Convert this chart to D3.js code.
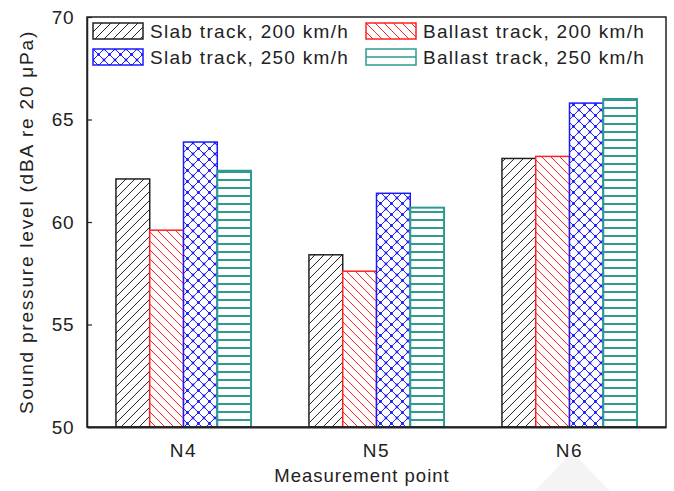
<!DOCTYPE html>
<html>
<head>
<meta charset="utf-8">
<script src="https://cdn.jsdelivr.net/npm/d3@7"></script>
<style>
  html, body { margin: 0; padding: 0; background: #fff; }
  svg { display: block; }
  text { font-family: "Liberation Sans", Arial, sans-serif; fill: #222; }
</style>
</head>
<body>
<svg id="chart" width="674" height="491"></svg>
<script>
// Measurement points and A-weighted sound pressure levels
const categories = ["N4", "N5", "N6"];
const seriesNames = [
  "Slab track, 200 km/h",
  "Ballast track, 200 km/h",
  "Slab track, 250 km/h",
  "Ballast track, 250 km/h"
];
const slab200 = [62.1, 58.4, 63.1];
const ballast200 = [59.6, 57.6, 63.2];
const slab250 = [63.9, 61.4, 65.8];
const ballast250 = [62.5, 60.7, 66.0];
const yTicks = [50, 55, 60, 65, 70];

const seriesValues = [slab200, ballast200, slab250, ballast250];
const seriesKeys = ["s200", "b200", "s250", "b250"];
const colors = { s200: "#222222", b200: "#ff2020", s250: "#1a1aff", b250: "#2e9a92" };

const svg = d3.select("#chart");
const margin = { left: 87, right: 8, top: 17, bottom: 64 };
const W = 674, H = 491;
const x0 = margin.left, x1 = W - margin.right, yTop = margin.top, yBot = H - margin.bottom;

// faint background shape near the bottom right
svg.append("polygon")
  .attr("points", "572,452 535,491 610,491")
  .attr("fill", "#f4f4f4");

const defs = svg.append("defs");

// hatch patterns
const p1 = defs.append("pattern").attr("id", "pat-s200")
  .attr("patternUnits", "userSpaceOnUse").attr("width", 9).attr("height", 9);
p1.append("rect").attr("width", 9).attr("height", 9).attr("fill", "#fff");
p1.append("path").attr("d", "M0,9 L9,0 M-2,2 L2,-2 M7,11 L11,7")
  .attr("stroke", colors.s200).attr("stroke-width", 1);

const p2 = defs.append("pattern").attr("id", "pat-b200")
  .attr("patternUnits", "userSpaceOnUse").attr("width", 9).attr("height", 9);
p2.append("rect").attr("width", 9).attr("height", 9).attr("fill", "#fff");
p2.append("path").attr("d", "M0,0 L9,9 M-2,7 L2,11 M7,-2 L11,2")
  .attr("stroke", colors.b200).attr("stroke-width", 1);

const p3 = defs.append("pattern").attr("id", "pat-s250")
  .attr("patternUnits", "userSpaceOnUse").attr("width", 11).attr("height", 11);
p3.append("rect").attr("width", 11).attr("height", 11).attr("fill", "#fff");
p3.append("path").attr("d", "M0,0 L11,11 M11,0 L0,11")
  .attr("stroke", colors.s250).attr("stroke-width", 1);
[[5.5, 5.5], [0, 0], [11, 0], [0, 11], [11, 11]].forEach(([cx, cy]) =>
  p3.append("circle").attr("cx", cx).attr("cy", cy).attr("r", 1.4).attr("fill", colors.s250));

const p4 = defs.append("pattern").attr("id", "pat-b250")
  .attr("patternUnits", "userSpaceOnUse").attr("width", 10).attr("height", 8);
p4.append("rect").attr("width", 10).attr("height", 8).attr("fill", "#fff");
p4.append("line").attr("x1", 0).attr("x2", 10).attr("y1", 4).attr("y2", 4)
  .attr("stroke", colors.b250).attr("stroke-width", 2);

// scales
const x = d3.scaleBand().domain(categories).range([x0, x1])
  .paddingInner(0.3).paddingOuter(0.15);
const xs = d3.scaleBand().domain(seriesKeys).range([0, x.bandwidth()]).padding(0);
const y = d3.scaleLinear().domain([50, 70]).range([yBot, yTop]);

// bars
const rows = categories.map((c, i) => ({
  cat: c,
  vals: seriesKeys.map((k, j) => ({ key: k, value: seriesValues[j][i] }))
}));

const groups = svg.append("g").selectAll("g").data(rows).join("g")
  .attr("transform", d => `translate(${x(d.cat)},0)`);

groups.selectAll("rect").data(d => d.vals).join("rect")
  .attr("x", d => xs(d.key))
  .attr("y", d => y(d.value))
  .attr("width", xs.bandwidth())
  .attr("height", d => y(50) - y(d.value))
  .attr("fill", d => `url(#pat-${d.key})`)
  .attr("stroke", d => colors[d.key])
  .attr("stroke-width", d => d.key === "b250" ? 2 : 1.5);

// frame
svg.append("rect")
  .attr("x", x0).attr("y", yTop).attr("width", x1 - x0).attr("height", yBot - yTop)
  .attr("fill", "none").attr("stroke", "#222").attr("stroke-width", 1.5);

// y axis with inward ticks
const yAxis = d3.axisLeft(y).tickValues(yTicks).tickSizeInner(-5).tickSizeOuter(0).tickPadding(13);
const gy = svg.append("g").attr("transform", `translate(${x0},0)`).call(yAxis);
gy.select(".domain").attr("stroke", "#222").attr("stroke-width", 1.5);
gy.selectAll(".tick line").attr("stroke", "#222").attr("stroke-width", 1.2);
gy.selectAll(".tick text").attr("font-size", 19).attr("fill", "#333")
  .attr("letter-spacing", 0.5)
  .attr("font-family", "Liberation Sans, Arial, sans-serif");

// x axis
const xAxis = d3.axisBottom(x).tickSize(0).tickPadding(17);
const gx = svg.append("g").attr("transform", `translate(0,${yBot})`).call(xAxis);
gx.select(".domain").attr("stroke", "#222").attr("stroke-width", 2);
gx.selectAll(".tick text").attr("font-size", 19).attr("fill", "#333")
  .attr("letter-spacing", 1.5)
  .attr("font-family", "Liberation Sans, Arial, sans-serif");

// axis titles
svg.append("text")
  .attr("x", 362).attr("y", 482)
  .attr("text-anchor", "middle").attr("font-size", 18.5).attr("letter-spacing", 1)
  .attr("fill", "#333")
  .text("Measurement point");

svg.append("text")
  .attr("transform", `translate(33,${(yTop + yBot) / 2}) rotate(-90)`)
  .attr("text-anchor", "middle").attr("font-size", 19).attr("letter-spacing", 1.8)
  .attr("fill", "#333")
  .text("Sound pressure level (dBA re 20 \u03bcPa)");

// legend
const legendPos = [
  { key: "s200", x: 93, y: 23 },
  { key: "b200", x: 366, y: 23 },
  { key: "s250", x: 93, y: 49 },
  { key: "b250", x: 366, y: 49 }
];
const legend = svg.append("g").selectAll("g").data(legendPos).join("g")
  .attr("transform", d => `translate(${d.x},${d.y})`);

legend.append("rect")
  .attr("width", 50).attr("height", 16)
  .attr("fill", d => d.key === "b250" ? "#fff" : `url(#pat-${d.key})`)
  .attr("stroke", d => colors[d.key]).attr("stroke-width", 1.5);
legend.filter(d => d.key === "b250").append("line")
  .attr("x1", 0).attr("x2", 50).attr("y1", 8).attr("y2", 8)
  .attr("stroke", colors.b250).attr("stroke-width", 1.5);
legend.append("text")
  .attr("x", 57).attr("y", 8).attr("dy", "0.36em")
  .attr("font-size", 19).attr("letter-spacing", 1.3).attr("fill", "#333")
  .text(d => seriesNames[seriesKeys.indexOf(d.key)]);
</script>
</body>
</html>
